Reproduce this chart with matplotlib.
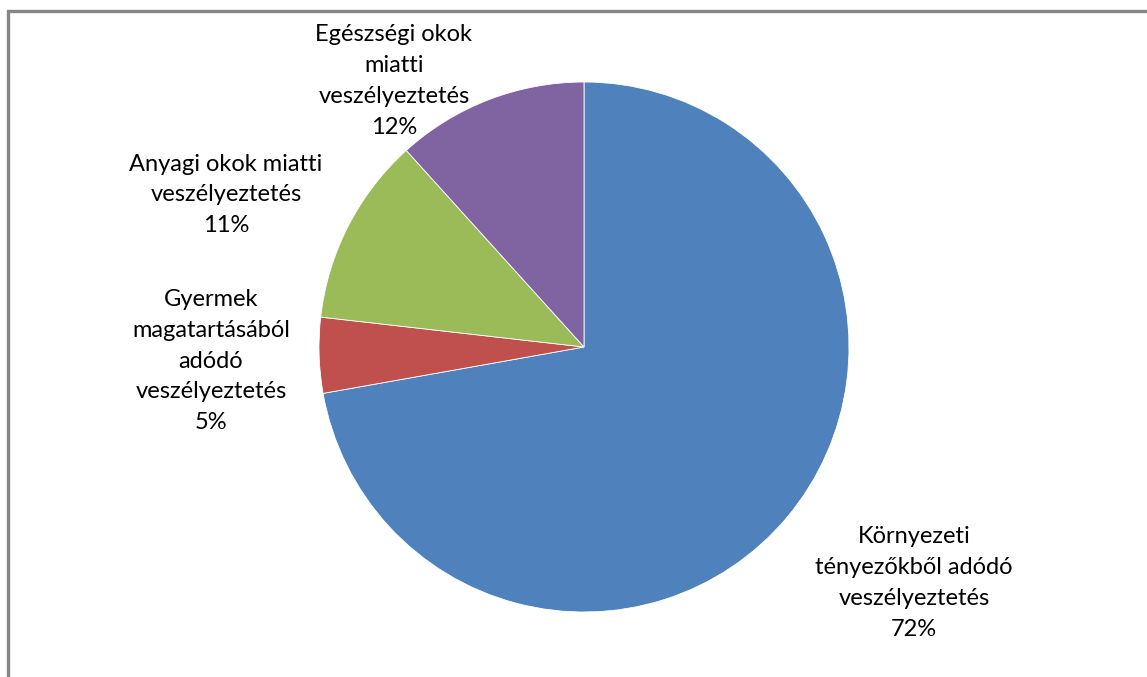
import matplotlib
matplotlib.use("Agg")
import matplotlib.pyplot as plt
from matplotlib.patches import Rectangle

# pie values (percent), clockwise from 12 o'clock
labels = ["Környezeti\ntényezőkből adódó\nveszélyeztetés",
          "Gyermek\nmagatartásából\nadódó\nveszélyeztetés",
          "Anyagi okok miatti\nveszélyeztetés",
          "Egészségi okok\nmiatti\nveszélyeztetés"]
values = [72.2, 4.6, 11.5, 11.7]          # slice sizes
pct_text = ["72%", "5%", "11%", "12%"]    # rounded labels shown on chart
colors = ["#4F81BD", "#C0504D", "#9BBB59", "#8064A2"]

# where each label sits (pie radius = 1)
label_pos = [(1.245, -0.891), (-1.408, -0.053), (-1.351, 0.574), (-0.717, 1.004)]

plt.rcParams['font.family'] = ['Lato', 'DejaVu Sans']

W, H = 1147, 677
fig = plt.figure(figsize=(W / 100, H / 100), dpi=100)
ax = fig.add_axes([0, 0, 1, 1])

ax.pie(values, colors=colors, startangle=90, counterclock=False, radius=1,
       wedgeprops=dict(edgecolor="white", linewidth=0.6))

for lab, p, (x, y) in zip(labels, pct_text, label_pos):
    ax.text(x, y, f"{lab}\n{p}", ha="center", va="center", fontsize=17,
            color="black", linespacing=1.58)

# pixel mapping: center (584, 347), radius 265 px
r = 265.0
ax.set_xlim(-584 / r, (W - 584) / r)
ax.set_ylim(-(H - 347) / r, 347 / r)
ax.set_aspect("equal")
ax.axis("off")

# chart area border (left and top visible)
fig.patches.append(Rectangle((8 / W, -0.5), 2, 0.5 + 1 - 11 / H,
                             transform=fig.transFigure, fill=False,
                             edgecolor="#868686", linewidth=2.4))

fig.savefig("out.png", dpi=100)
